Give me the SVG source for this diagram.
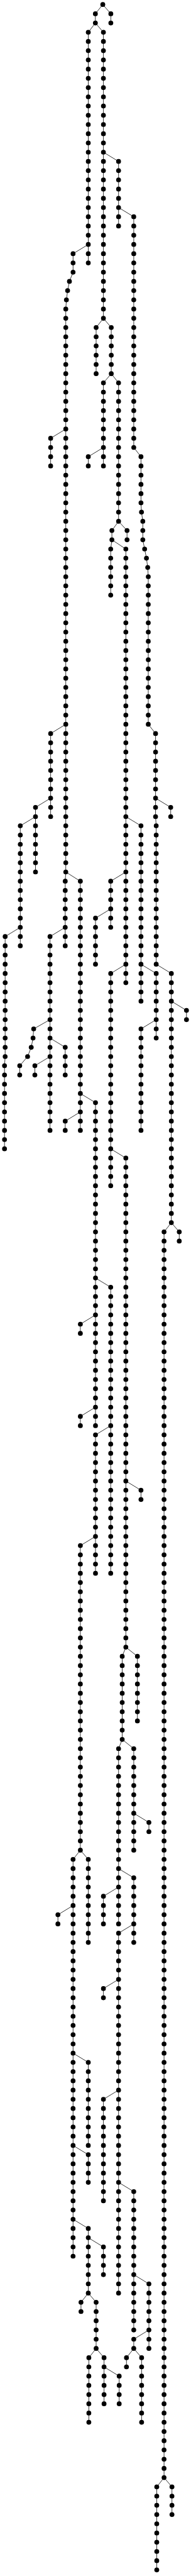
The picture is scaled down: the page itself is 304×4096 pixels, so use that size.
<svg xmlns="http://www.w3.org/2000/svg" width="304" height="4096" viewBox="0 0 304 4096">
<style>circle{r:3.85px;fill:#000}path{fill:none;stroke:#000;stroke-width:.8}</style>
<g id="connectors">
<path d="M163.6 7.2L151.8 21.9V36.6"/>
<path d="M163.6 7.2L176.4 21.9V36.6"/>
<path d="M151.8 36.6L140.5 51.3V418.1"/>
<path d="M151.8 36.6L164.6 51.3V506.1"/>
<path d="M164.6 242L188.7 256.7V359.4"/>
<path d="M188.7 330L212.9 344.7V711.5L224.4 726.2V799.6L225.2 814.3L227.3 828.9V858.3L230.2 873L233.1 887.6L235.1 902.3L236 917V1151.7L247.6 1166.4V1298.5L248.6 1313.1V1533.2L272.7 1547.9V1944.1L261.1 1958.8V3939.6L249.5 3954.3V4086.3"/>
<path d="M140.5 388.7L116.3 403.4V432.8L110.5 447.4L107.6 462.1L105.7 476.8L104.7 491.4V1386.5L103.8 1401.2V1503.9"/>
<path d="M164.6 506.1L153 520.8V594.2"/>
<path d="M164.6 506.1L177.1 520.8V594.2"/>
<path d="M177.1 594.2L164.6 608.8V740.9"/>
<path d="M164.6 711.5L140.5 726.2V740.9"/>
<path d="M177.1 594.2L188.7 608.8V828.9"/>
<path d="M188.7 828.9L202.2 843.6V858.3"/>
<path d="M188.7 828.9L178.1 843.6V858.3"/>
<path d="M178.1 858.3L176.2 873V946.3"/>
<path d="M178.1 858.3L200.3 873V1562.6"/>
<path d="M104.7 682.2L80.6 696.9V740.9"/>
<path d="M104.7 1151.7L80.6 1166.4V1298.5"/>
<path d="M80.6 1269.1L56.5 1283.8V1386.5"/>
<path d="M56.5 1298.5L32.3 1313.1V1503.9"/>
<path d="M32.3 1474.5L8.2 1489.2V1680L7.2 1694.6V1826.7"/>
<path d="M103.8 1474.5L79.6 1489.2V1797.4"/>
<path d="M79.6 1621.3L53.6 1636L52.6 1650.6L49.7 1665.3L43.9 1680L31.4 1694.6V1709.3"/>
<path d="M79.6 1650.6L103.8 1665.3V1709.3"/>
<path d="M79.6 1680L55.5 1694.6V1709.3"/>
<path d="M104.7 1386.5L127.9 1401.2V1797.4"/>
<path d="M127.9 1768L103.8 1782.7V1797.4"/>
<path d="M127.9 1738.7L152 1753.3V2266.9"/>
<path d="M152 2090.8L127.9 2105.5V2120.2"/>
<path d="M152 2237.5L127.9 2252.2V2266.9"/>
<path d="M152 2032.1L176.2 2046.8V2501.7"/>
<path d="M176.2 2266.9L152 2281.6V2501.7"/>
<path d="M152 2443L127.9 2457.6V2941.9"/>
<path d="M127.9 2941.9L116.3 2956.5V3587.5"/>
<path d="M116.3 3029.9L92.2 3044.6V3059.2"/>
<path d="M127.9 2941.9L140.5 2956.5V3088.6"/>
<path d="M116.3 3264.7L140.5 3279.3V3411.4"/>
<path d="M116.3 3411.4L140.5 3426.1V3470.1"/>
<path d="M116.3 3528.8L140.5 3543.4V3646.2"/>
<path d="M140.5 3558.1L164.6 3572.8V3616.8"/>
<path d="M140.5 3646.2L128.9 3660.8V3675.5"/>
<path d="M140.5 3646.2L153 3660.8V3734.2"/>
<path d="M153 3734.2L141.4 3748.9V3851.6"/>
<path d="M153 3734.2L165.6 3748.9V3822.2"/>
<path d="M165.6 3763.5L189.7 3778.2V3822.2"/>
<path d="M200.3 1386.5L176.2 1401.2V1474.5"/>
<path d="M176.2 1445.2L152 1459.9V1533.2"/>
<path d="M200.3 1533.2L176.2 1547.9V1885.4"/>
<path d="M176.2 1826.7L200.3 1841.4V2619.1"/>
<path d="M200.3 2354.9L224.4 2369.6V2384.3"/>
<path d="M200.3 2619.1L194.5 2633.7V2765.8"/>
<path d="M200.3 2619.1L218.7 2633.7V2736.4"/>
<path d="M194.5 2765.8L212.9 2780.5V2941.9"/>
<path d="M212.9 2883.2L237 2897.8V2912.5"/>
<path d="M194.5 2765.8L188.7 2780.5V3059.2"/>
<path d="M188.7 3000.5L164.6 3015.2V3059.2"/>
<path d="M188.7 2971.2L212.9 2985.9V3088.6"/>
<path d="M212.9 3059.2L188.7 3073.9V3646.2"/>
<path d="M188.7 3147.3L164.6 3161.9V3176.6"/>
<path d="M188.7 3323.4L164.6 3338V3499.4"/>
<path d="M188.7 3470.1L212.9 3484.8V3704.8"/>
<path d="M212.9 3616.8L237 3631.5V3734.2"/>
<path d="M237 3704.8L212.9 3719.5V3734.2"/>
<path d="M212.9 3734.2L201.3 3748.9V3763.5"/>
<path d="M212.9 3734.2L225.4 3748.9V3851.6"/>
<path d="M200.3 1298.5L224.4 1313.1V1591.9"/>
<path d="M224.4 1533.2L248.6 1547.9V1650.6"/>
<path d="M248.6 1621.3L224.4 1636V1797.4"/>
<path d="M247.6 1269.1L271.7 1283.8V1298.5"/>
<path d="M272.7 1591.9L296.8 1606.6V1621.3"/>
<path d="M272.7 1944.1L285.3 1958.8V1973.4"/>
<path d="M261.1 3939.6L273.7 3954.3V3998.3"/>
</g>
<g id="nodes">
<g id="n678_0"><circle cx="163.6" cy="7.2"/></g>
<g id="n629_1"><circle cx="151.8" cy="21.9"/></g>
<g id="n629_2"><circle cx="151.8" cy="36.6"/></g>
<g id="n731_1"><circle cx="176.4" cy="21.9"/></g>
<g id="n731_2"><circle cx="176.4" cy="36.6"/></g>
<g id="n582_3"><circle cx="140.5" cy="51.3"/></g>
<g id="n582_4"><circle cx="140.5" cy="65.9"/></g>
<g id="n582_5"><circle cx="140.5" cy="80.6"/></g>
<g id="n582_6"><circle cx="140.5" cy="95.3"/></g>
<g id="n582_7"><circle cx="140.5" cy="109.9"/></g>
<g id="n582_8"><circle cx="140.5" cy="124.6"/></g>
<g id="n582_9"><circle cx="140.5" cy="139.3"/></g>
<g id="n582_10"><circle cx="140.5" cy="154"/></g>
<g id="n582_11"><circle cx="140.5" cy="168.6"/></g>
<g id="n582_12"><circle cx="140.5" cy="183.3"/></g>
<g id="n582_13"><circle cx="140.5" cy="198"/></g>
<g id="n582_14"><circle cx="140.5" cy="212.7"/></g>
<g id="n582_15"><circle cx="140.5" cy="227.3"/></g>
<g id="n582_16"><circle cx="140.5" cy="242"/></g>
<g id="n582_17"><circle cx="140.5" cy="256.7"/></g>
<g id="n582_18"><circle cx="140.5" cy="271.3"/></g>
<g id="n582_19"><circle cx="140.5" cy="286"/></g>
<g id="n582_20"><circle cx="140.5" cy="300.7"/></g>
<g id="n582_21"><circle cx="140.5" cy="315.4"/></g>
<g id="n582_22"><circle cx="140.5" cy="330"/></g>
<g id="n582_23"><circle cx="140.5" cy="344.7"/></g>
<g id="n582_24"><circle cx="140.5" cy="359.4"/></g>
<g id="n582_25"><circle cx="140.5" cy="374.1"/></g>
<g id="n582_26"><circle cx="140.5" cy="388.7"/></g>
<g id="n582_27"><circle cx="140.5" cy="403.4"/></g>
<g id="n582_28"><circle cx="140.5" cy="418.1"/></g>
<g id="n682_3"><circle cx="164.6" cy="51.3"/></g>
<g id="n682_4"><circle cx="164.6" cy="65.9"/></g>
<g id="n682_5"><circle cx="164.6" cy="80.6"/></g>
<g id="n682_6"><circle cx="164.6" cy="95.3"/></g>
<g id="n682_7"><circle cx="164.6" cy="109.9"/></g>
<g id="n682_8"><circle cx="164.6" cy="124.6"/></g>
<g id="n682_9"><circle cx="164.6" cy="139.3"/></g>
<g id="n682_10"><circle cx="164.6" cy="154"/></g>
<g id="n682_11"><circle cx="164.6" cy="168.6"/></g>
<g id="n682_12"><circle cx="164.6" cy="183.3"/></g>
<g id="n682_13"><circle cx="164.6" cy="198"/></g>
<g id="n682_14"><circle cx="164.6" cy="212.7"/></g>
<g id="n682_15"><circle cx="164.6" cy="227.3"/></g>
<g id="n682_16"><circle cx="164.6" cy="242"/></g>
<g id="n682_17"><circle cx="164.6" cy="256.7"/></g>
<g id="n682_18"><circle cx="164.6" cy="271.3"/></g>
<g id="n682_19"><circle cx="164.6" cy="286"/></g>
<g id="n682_20"><circle cx="164.6" cy="300.7"/></g>
<g id="n682_21"><circle cx="164.6" cy="315.4"/></g>
<g id="n682_22"><circle cx="164.6" cy="330"/></g>
<g id="n682_23"><circle cx="164.6" cy="344.7"/></g>
<g id="n682_24"><circle cx="164.6" cy="359.4"/></g>
<g id="n682_25"><circle cx="164.6" cy="374.1"/></g>
<g id="n682_26"><circle cx="164.6" cy="388.7"/></g>
<g id="n682_27"><circle cx="164.6" cy="403.4"/></g>
<g id="n682_28"><circle cx="164.6" cy="418.1"/></g>
<g id="n682_29"><circle cx="164.6" cy="432.8"/></g>
<g id="n682_30"><circle cx="164.6" cy="447.4"/></g>
<g id="n682_31"><circle cx="164.6" cy="462.1"/></g>
<g id="n682_32"><circle cx="164.6" cy="476.8"/></g>
<g id="n682_33"><circle cx="164.6" cy="491.4"/></g>
<g id="n682_34"><circle cx="164.6" cy="506.1"/></g>
<g id="n782_17"><circle cx="188.7" cy="256.7"/></g>
<g id="n782_18"><circle cx="188.7" cy="271.3"/></g>
<g id="n782_19"><circle cx="188.7" cy="286"/></g>
<g id="n782_20"><circle cx="188.7" cy="300.7"/></g>
<g id="n782_21"><circle cx="188.7" cy="315.4"/></g>
<g id="n782_22"><circle cx="188.7" cy="330"/></g>
<g id="n782_23"><circle cx="188.7" cy="344.7"/></g>
<g id="n782_24"><circle cx="188.7" cy="359.4"/></g>
<g id="n882_23"><circle cx="212.9" cy="344.7"/></g>
<g id="n882_24"><circle cx="212.9" cy="359.4"/></g>
<g id="n882_25"><circle cx="212.9" cy="374.1"/></g>
<g id="n882_26"><circle cx="212.9" cy="388.7"/></g>
<g id="n882_27"><circle cx="212.9" cy="403.4"/></g>
<g id="n882_28"><circle cx="212.9" cy="418.1"/></g>
<g id="n882_29"><circle cx="212.9" cy="432.8"/></g>
<g id="n882_30"><circle cx="212.9" cy="447.4"/></g>
<g id="n882_31"><circle cx="212.9" cy="462.1"/></g>
<g id="n882_32"><circle cx="212.9" cy="476.8"/></g>
<g id="n882_33"><circle cx="212.9" cy="491.4"/></g>
<g id="n882_34"><circle cx="212.9" cy="506.1"/></g>
<g id="n882_35"><circle cx="212.9" cy="520.8"/></g>
<g id="n882_36"><circle cx="212.9" cy="535.5"/></g>
<g id="n882_37"><circle cx="212.9" cy="550.1"/></g>
<g id="n882_38"><circle cx="212.9" cy="564.8"/></g>
<g id="n882_39"><circle cx="212.9" cy="579.5"/></g>
<g id="n882_40"><circle cx="212.9" cy="594.2"/></g>
<g id="n882_41"><circle cx="212.9" cy="608.8"/></g>
<g id="n882_42"><circle cx="212.9" cy="623.5"/></g>
<g id="n882_43"><circle cx="212.9" cy="638.2"/></g>
<g id="n882_44"><circle cx="212.9" cy="652.9"/></g>
<g id="n882_45"><circle cx="212.9" cy="667.5"/></g>
<g id="n882_46"><circle cx="212.9" cy="682.2"/></g>
<g id="n882_47"><circle cx="212.9" cy="696.9"/></g>
<g id="n882_48"><circle cx="212.9" cy="711.5"/></g>
<g id="n930_49"><circle cx="224.4" cy="726.2"/></g>
<g id="n930_50"><circle cx="224.4" cy="740.9"/></g>
<g id="n930_51"><circle cx="224.4" cy="755.6"/></g>
<g id="n930_52"><circle cx="224.4" cy="770.2"/></g>
<g id="n930_53"><circle cx="224.4" cy="784.9"/></g>
<g id="n930_54"><circle cx="224.4" cy="799.6"/></g>
<g id="n933_55"><circle cx="225.2" cy="814.3"/></g>
<g id="n942_56"><circle cx="227.3" cy="828.9"/></g>
<g id="n942_57"><circle cx="227.3" cy="843.6"/></g>
<g id="n942_58"><circle cx="227.3" cy="858.3"/></g>
<g id="n954_59"><circle cx="230.2" cy="873"/></g>
<g id="n966_60"><circle cx="233.1" cy="887.6"/></g>
<g id="n974_61"><circle cx="235.1" cy="902.3"/></g>
<g id="n978_62"><circle cx="236" cy="917"/></g>
<g id="n978_63"><circle cx="236" cy="931.6"/></g>
<g id="n978_64"><circle cx="236" cy="946.3"/></g>
<g id="n978_65"><circle cx="236" cy="961"/></g>
<g id="n978_66"><circle cx="236" cy="975.7"/></g>
<g id="n978_67"><circle cx="236" cy="990.3"/></g>
<g id="n978_68"><circle cx="236" cy="1005"/></g>
<g id="n978_69"><circle cx="236" cy="1019.7"/></g>
<g id="n978_70"><circle cx="236" cy="1034.4"/></g>
<g id="n978_71"><circle cx="236" cy="1049"/></g>
<g id="n978_72"><circle cx="236" cy="1063.7"/></g>
<g id="n978_73"><circle cx="236" cy="1078.4"/></g>
<g id="n978_74"><circle cx="236" cy="1093"/></g>
<g id="n978_75"><circle cx="236" cy="1107.7"/></g>
<g id="n978_76"><circle cx="236" cy="1122.4"/></g>
<g id="n978_77"><circle cx="236" cy="1137.1"/></g>
<g id="n978_78"><circle cx="236" cy="1151.7"/></g>
<g id="n1026_79"><circle cx="247.6" cy="1166.4"/></g>
<g id="n1026_80"><circle cx="247.6" cy="1181.1"/></g>
<g id="n1026_81"><circle cx="247.6" cy="1195.8"/></g>
<g id="n1026_82"><circle cx="247.6" cy="1210.4"/></g>
<g id="n1026_83"><circle cx="247.6" cy="1225.1"/></g>
<g id="n1026_84"><circle cx="247.6" cy="1239.8"/></g>
<g id="n1026_85"><circle cx="247.6" cy="1254.5"/></g>
<g id="n1026_86"><circle cx="247.6" cy="1269.1"/></g>
<g id="n1026_87"><circle cx="247.6" cy="1283.8"/></g>
<g id="n1026_88"><circle cx="247.6" cy="1298.5"/></g>
<g id="n1126_87"><circle cx="271.7" cy="1283.8"/></g>
<g id="n1126_88"><circle cx="271.7" cy="1298.5"/></g>
<g id="n1030_89"><circle cx="248.6" cy="1313.1"/></g>
<g id="n1030_90"><circle cx="248.6" cy="1327.8"/></g>
<g id="n1030_91"><circle cx="248.6" cy="1342.5"/></g>
<g id="n1030_92"><circle cx="248.6" cy="1357.2"/></g>
<g id="n1030_93"><circle cx="248.6" cy="1371.8"/></g>
<g id="n1030_94"><circle cx="248.6" cy="1386.5"/></g>
<g id="n1030_95"><circle cx="248.6" cy="1401.2"/></g>
<g id="n1030_96"><circle cx="248.6" cy="1415.9"/></g>
<g id="n1030_97"><circle cx="248.6" cy="1430.5"/></g>
<g id="n1030_98"><circle cx="248.6" cy="1445.2"/></g>
<g id="n1030_99"><circle cx="248.6" cy="1459.9"/></g>
<g id="n1030_100"><circle cx="248.6" cy="1474.5"/></g>
<g id="n1030_101"><circle cx="248.6" cy="1489.2"/></g>
<g id="n1030_102"><circle cx="248.6" cy="1503.9"/></g>
<g id="n1030_103"><circle cx="248.6" cy="1518.6"/></g>
<g id="n1030_104"><circle cx="248.6" cy="1533.2"/></g>
<g id="n1030_105"><circle cx="248.6" cy="1547.9"/></g>
<g id="n1030_106"><circle cx="248.6" cy="1562.6"/></g>
<g id="n1030_107"><circle cx="248.6" cy="1577.3"/></g>
<g id="n1030_108"><circle cx="248.6" cy="1591.9"/></g>
<g id="n1030_109"><circle cx="248.6" cy="1606.6"/></g>
<g id="n1030_110"><circle cx="248.6" cy="1621.3"/></g>
<g id="n1030_111"><circle cx="248.6" cy="1636"/></g>
<g id="n1030_112"><circle cx="248.6" cy="1650.6"/></g>
<g id="n1130_105"><circle cx="272.7" cy="1547.9"/></g>
<g id="n1130_106"><circle cx="272.7" cy="1562.6"/></g>
<g id="n1130_107"><circle cx="272.7" cy="1577.3"/></g>
<g id="n1130_108"><circle cx="272.7" cy="1591.9"/></g>
<g id="n1130_109"><circle cx="272.7" cy="1606.6"/></g>
<g id="n1130_110"><circle cx="272.7" cy="1621.3"/></g>
<g id="n1130_111"><circle cx="272.7" cy="1636"/></g>
<g id="n1130_112"><circle cx="272.7" cy="1650.6"/></g>
<g id="n1130_113"><circle cx="272.7" cy="1665.3"/></g>
<g id="n1130_114"><circle cx="272.7" cy="1680"/></g>
<g id="n1130_115"><circle cx="272.7" cy="1694.6"/></g>
<g id="n1130_116"><circle cx="272.7" cy="1709.3"/></g>
<g id="n1130_117"><circle cx="272.7" cy="1724"/></g>
<g id="n1130_118"><circle cx="272.7" cy="1738.7"/></g>
<g id="n1130_119"><circle cx="272.7" cy="1753.3"/></g>
<g id="n1130_120"><circle cx="272.7" cy="1768"/></g>
<g id="n1130_121"><circle cx="272.7" cy="1782.7"/></g>
<g id="n1130_122"><circle cx="272.7" cy="1797.4"/></g>
<g id="n1130_123"><circle cx="272.7" cy="1812"/></g>
<g id="n1130_124"><circle cx="272.7" cy="1826.7"/></g>
<g id="n1130_125"><circle cx="272.7" cy="1841.4"/></g>
<g id="n1130_126"><circle cx="272.7" cy="1856.1"/></g>
<g id="n1130_127"><circle cx="272.7" cy="1870.7"/></g>
<g id="n1130_128"><circle cx="272.7" cy="1885.4"/></g>
<g id="n1130_129"><circle cx="272.7" cy="1900.1"/></g>
<g id="n1130_130"><circle cx="272.7" cy="1914.7"/></g>
<g id="n1130_131"><circle cx="272.7" cy="1929.4"/></g>
<g id="n1130_132"><circle cx="272.7" cy="1944.1"/></g>
<g id="n1230_109"><circle cx="296.8" cy="1606.6"/></g>
<g id="n1230_110"><circle cx="296.8" cy="1621.3"/></g>
<g id="n1182_133"><circle cx="285.3" cy="1958.8"/></g>
<g id="n1182_134"><circle cx="285.3" cy="1973.4"/></g>
<g id="n1082_133"><circle cx="261.1" cy="1958.8"/></g>
<g id="n1082_134"><circle cx="261.1" cy="1973.4"/></g>
<g id="n1082_135"><circle cx="261.1" cy="1988.1"/></g>
<g id="n1082_136"><circle cx="261.1" cy="2002.8"/></g>
<g id="n1082_137"><circle cx="261.1" cy="2017.5"/></g>
<g id="n1082_138"><circle cx="261.1" cy="2032.1"/></g>
<g id="n1082_139"><circle cx="261.1" cy="2046.8"/></g>
<g id="n1082_140"><circle cx="261.1" cy="2061.5"/></g>
<g id="n1082_141"><circle cx="261.1" cy="2076.1"/></g>
<g id="n1082_142"><circle cx="261.1" cy="2090.8"/></g>
<g id="n1082_143"><circle cx="261.1" cy="2105.5"/></g>
<g id="n1082_144"><circle cx="261.1" cy="2120.2"/></g>
<g id="n1082_145"><circle cx="261.1" cy="2134.8"/></g>
<g id="n1082_146"><circle cx="261.1" cy="2149.5"/></g>
<g id="n1082_147"><circle cx="261.1" cy="2164.2"/></g>
<g id="n1082_148"><circle cx="261.1" cy="2178.9"/></g>
<g id="n1082_149"><circle cx="261.1" cy="2193.5"/></g>
<g id="n1082_150"><circle cx="261.1" cy="2208.2"/></g>
<g id="n1082_151"><circle cx="261.1" cy="2222.9"/></g>
<g id="n1082_152"><circle cx="261.1" cy="2237.5"/></g>
<g id="n1082_153"><circle cx="261.1" cy="2252.2"/></g>
<g id="n1082_154"><circle cx="261.1" cy="2266.9"/></g>
<g id="n1082_155"><circle cx="261.1" cy="2281.6"/></g>
<g id="n1082_156"><circle cx="261.1" cy="2296.2"/></g>
<g id="n1082_157"><circle cx="261.1" cy="2310.9"/></g>
<g id="n1082_158"><circle cx="261.1" cy="2325.6"/></g>
<g id="n1082_159"><circle cx="261.1" cy="2340.3"/></g>
<g id="n1082_160"><circle cx="261.1" cy="2354.9"/></g>
<g id="n1082_161"><circle cx="261.1" cy="2369.6"/></g>
<g id="n1082_162"><circle cx="261.1" cy="2384.3"/></g>
<g id="n1082_163"><circle cx="261.1" cy="2399"/></g>
<g id="n1082_164"><circle cx="261.1" cy="2413.6"/></g>
<g id="n1082_165"><circle cx="261.1" cy="2428.3"/></g>
<g id="n1082_166"><circle cx="261.1" cy="2443"/></g>
<g id="n1082_167"><circle cx="261.1" cy="2457.6"/></g>
<g id="n1082_168"><circle cx="261.1" cy="2472.3"/></g>
<g id="n1082_169"><circle cx="261.1" cy="2487"/></g>
<g id="n1082_170"><circle cx="261.1" cy="2501.7"/></g>
<g id="n1082_171"><circle cx="261.1" cy="2516.3"/></g>
<g id="n1082_172"><circle cx="261.1" cy="2531"/></g>
<g id="n1082_173"><circle cx="261.1" cy="2545.7"/></g>
<g id="n1082_174"><circle cx="261.1" cy="2560.4"/></g>
<g id="n1082_175"><circle cx="261.1" cy="2575"/></g>
<g id="n1082_176"><circle cx="261.1" cy="2589.7"/></g>
<g id="n1082_177"><circle cx="261.1" cy="2604.4"/></g>
<g id="n1082_178"><circle cx="261.1" cy="2619.1"/></g>
<g id="n1082_179"><circle cx="261.1" cy="2633.7"/></g>
<g id="n1082_180"><circle cx="261.1" cy="2648.4"/></g>
<g id="n1082_181"><circle cx="261.1" cy="2663.1"/></g>
<g id="n1082_182"><circle cx="261.1" cy="2677.7"/></g>
<g id="n1082_183"><circle cx="261.1" cy="2692.4"/></g>
<g id="n1082_184"><circle cx="261.1" cy="2707.1"/></g>
<g id="n1082_185"><circle cx="261.1" cy="2721.8"/></g>
<g id="n1082_186"><circle cx="261.1" cy="2736.4"/></g>
<g id="n1082_187"><circle cx="261.1" cy="2751.1"/></g>
<g id="n1082_188"><circle cx="261.1" cy="2765.8"/></g>
<g id="n1082_189"><circle cx="261.1" cy="2780.5"/></g>
<g id="n1082_190"><circle cx="261.1" cy="2795.1"/></g>
<g id="n1082_191"><circle cx="261.1" cy="2809.8"/></g>
<g id="n1082_192"><circle cx="261.1" cy="2824.5"/></g>
<g id="n1082_193"><circle cx="261.1" cy="2839.1"/></g>
<g id="n1082_194"><circle cx="261.1" cy="2853.8"/></g>
<g id="n1082_195"><circle cx="261.1" cy="2868.5"/></g>
<g id="n1082_196"><circle cx="261.1" cy="2883.2"/></g>
<g id="n1082_197"><circle cx="261.1" cy="2897.8"/></g>
<g id="n1082_198"><circle cx="261.1" cy="2912.5"/></g>
<g id="n1082_199"><circle cx="261.1" cy="2927.2"/></g>
<g id="n1082_200"><circle cx="261.1" cy="2941.9"/></g>
<g id="n1082_201"><circle cx="261.1" cy="2956.5"/></g>
<g id="n1082_202"><circle cx="261.1" cy="2971.2"/></g>
<g id="n1082_203"><circle cx="261.1" cy="2985.9"/></g>
<g id="n1082_204"><circle cx="261.1" cy="3000.5"/></g>
<g id="n1082_205"><circle cx="261.1" cy="3015.2"/></g>
<g id="n1082_206"><circle cx="261.1" cy="3029.9"/></g>
<g id="n1082_207"><circle cx="261.1" cy="3044.6"/></g>
<g id="n1082_208"><circle cx="261.1" cy="3059.2"/></g>
<g id="n1082_209"><circle cx="261.1" cy="3073.9"/></g>
<g id="n1082_210"><circle cx="261.1" cy="3088.6"/></g>
<g id="n1082_211"><circle cx="261.1" cy="3103.2"/></g>
<g id="n1082_212"><circle cx="261.1" cy="3117.9"/></g>
<g id="n1082_213"><circle cx="261.1" cy="3132.6"/></g>
<g id="n1082_214"><circle cx="261.1" cy="3147.3"/></g>
<g id="n1082_215"><circle cx="261.1" cy="3161.9"/></g>
<g id="n1082_216"><circle cx="261.1" cy="3176.6"/></g>
<g id="n1082_217"><circle cx="261.1" cy="3191.3"/></g>
<g id="n1082_218"><circle cx="261.1" cy="3206"/></g>
<g id="n1082_219"><circle cx="261.1" cy="3220.6"/></g>
<g id="n1082_220"><circle cx="261.1" cy="3235.3"/></g>
<g id="n1082_221"><circle cx="261.1" cy="3250"/></g>
<g id="n1082_222"><circle cx="261.1" cy="3264.7"/></g>
<g id="n1082_223"><circle cx="261.1" cy="3279.3"/></g>
<g id="n1082_224"><circle cx="261.1" cy="3294"/></g>
<g id="n1082_225"><circle cx="261.1" cy="3308.7"/></g>
<g id="n1082_226"><circle cx="261.1" cy="3323.4"/></g>
<g id="n1082_227"><circle cx="261.1" cy="3338"/></g>
<g id="n1082_228"><circle cx="261.1" cy="3352.7"/></g>
<g id="n1082_229"><circle cx="261.1" cy="3367.4"/></g>
<g id="n1082_230"><circle cx="261.1" cy="3382"/></g>
<g id="n1082_231"><circle cx="261.1" cy="3396.7"/></g>
<g id="n1082_232"><circle cx="261.1" cy="3411.4"/></g>
<g id="n1082_233"><circle cx="261.1" cy="3426.1"/></g>
<g id="n1082_234"><circle cx="261.1" cy="3440.7"/></g>
<g id="n1082_235"><circle cx="261.1" cy="3455.4"/></g>
<g id="n1082_236"><circle cx="261.1" cy="3470.1"/></g>
<g id="n1082_237"><circle cx="261.1" cy="3484.8"/></g>
<g id="n1082_238"><circle cx="261.1" cy="3499.4"/></g>
<g id="n1082_239"><circle cx="261.1" cy="3514.1"/></g>
<g id="n1082_240"><circle cx="261.1" cy="3528.8"/></g>
<g id="n1082_241"><circle cx="261.1" cy="3543.4"/></g>
<g id="n1082_242"><circle cx="261.1" cy="3558.1"/></g>
<g id="n1082_243"><circle cx="261.1" cy="3572.8"/></g>
<g id="n1082_244"><circle cx="261.1" cy="3587.5"/></g>
<g id="n1082_245"><circle cx="261.1" cy="3602.1"/></g>
<g id="n1082_246"><circle cx="261.1" cy="3616.8"/></g>
<g id="n1082_247"><circle cx="261.1" cy="3631.5"/></g>
<g id="n1082_248"><circle cx="261.1" cy="3646.2"/></g>
<g id="n1082_249"><circle cx="261.1" cy="3660.8"/></g>
<g id="n1082_250"><circle cx="261.1" cy="3675.5"/></g>
<g id="n1082_251"><circle cx="261.1" cy="3690.2"/></g>
<g id="n1082_252"><circle cx="261.1" cy="3704.8"/></g>
<g id="n1082_253"><circle cx="261.1" cy="3719.5"/></g>
<g id="n1082_254"><circle cx="261.1" cy="3734.2"/></g>
<g id="n1082_255"><circle cx="261.1" cy="3748.9"/></g>
<g id="n1082_256"><circle cx="261.1" cy="3763.5"/></g>
<g id="n1082_257"><circle cx="261.1" cy="3778.2"/></g>
<g id="n1082_258"><circle cx="261.1" cy="3792.9"/></g>
<g id="n1082_259"><circle cx="261.1" cy="3807.6"/></g>
<g id="n1082_260"><circle cx="261.1" cy="3822.2"/></g>
<g id="n1082_261"><circle cx="261.1" cy="3836.9"/></g>
<g id="n1082_262"><circle cx="261.1" cy="3851.6"/></g>
<g id="n1082_263"><circle cx="261.1" cy="3866.3"/></g>
<g id="n1082_264"><circle cx="261.1" cy="3880.9"/></g>
<g id="n1082_265"><circle cx="261.1" cy="3895.6"/></g>
<g id="n1082_266"><circle cx="261.1" cy="3910.3"/></g>
<g id="n1082_267"><circle cx="261.1" cy="3924.9"/></g>
<g id="n1082_268"><circle cx="261.1" cy="3939.6"/></g>
<g id="n1134_269"><circle cx="273.7" cy="3954.3"/></g>
<g id="n1134_270"><circle cx="273.7" cy="3969"/></g>
<g id="n1134_271"><circle cx="273.7" cy="3983.6"/></g>
<g id="n1134_272"><circle cx="273.7" cy="3998.3"/></g>
<g id="n1034_269"><circle cx="249.5" cy="3954.3"/></g>
<g id="n1034_270"><circle cx="249.5" cy="3969"/></g>
<g id="n1034_271"><circle cx="249.5" cy="3983.6"/></g>
<g id="n1034_272"><circle cx="249.5" cy="3998.3"/></g>
<g id="n1034_273"><circle cx="249.5" cy="4013"/></g>
<g id="n1034_274"><circle cx="249.5" cy="4027.7"/></g>
<g id="n1034_275"><circle cx="249.5" cy="4042.3"/></g>
<g id="n1034_276"><circle cx="249.5" cy="4057"/></g>
<g id="n1034_277"><circle cx="249.5" cy="4071.7"/></g>
<g id="n1034_278"><circle cx="249.5" cy="4086.3"/></g>
<g id="n482_27"><circle cx="116.3" cy="403.4"/></g>
<g id="n482_28"><circle cx="116.3" cy="418.1"/></g>
<g id="n482_29"><circle cx="116.3" cy="432.8"/></g>
<g id="n458_30"><circle cx="110.5" cy="447.4"/></g>
<g id="n446_31"><circle cx="107.6" cy="462.1"/></g>
<g id="n438_32"><circle cx="105.7" cy="476.8"/></g>
<g id="n434_33"><circle cx="104.7" cy="491.4"/></g>
<g id="n434_34"><circle cx="104.7" cy="506.1"/></g>
<g id="n434_35"><circle cx="104.7" cy="520.8"/></g>
<g id="n434_36"><circle cx="104.7" cy="535.5"/></g>
<g id="n434_37"><circle cx="104.7" cy="550.1"/></g>
<g id="n434_38"><circle cx="104.7" cy="564.8"/></g>
<g id="n434_39"><circle cx="104.7" cy="579.5"/></g>
<g id="n434_40"><circle cx="104.7" cy="594.2"/></g>
<g id="n434_41"><circle cx="104.7" cy="608.8"/></g>
<g id="n434_42"><circle cx="104.7" cy="623.5"/></g>
<g id="n434_43"><circle cx="104.7" cy="638.2"/></g>
<g id="n434_44"><circle cx="104.7" cy="652.9"/></g>
<g id="n434_45"><circle cx="104.7" cy="667.5"/></g>
<g id="n434_46"><circle cx="104.7" cy="682.2"/></g>
<g id="n434_47"><circle cx="104.7" cy="696.9"/></g>
<g id="n434_48"><circle cx="104.7" cy="711.5"/></g>
<g id="n434_49"><circle cx="104.7" cy="726.2"/></g>
<g id="n434_50"><circle cx="104.7" cy="740.9"/></g>
<g id="n434_51"><circle cx="104.7" cy="755.6"/></g>
<g id="n434_52"><circle cx="104.7" cy="770.2"/></g>
<g id="n434_53"><circle cx="104.7" cy="784.9"/></g>
<g id="n434_54"><circle cx="104.7" cy="799.6"/></g>
<g id="n434_55"><circle cx="104.7" cy="814.3"/></g>
<g id="n434_56"><circle cx="104.7" cy="828.9"/></g>
<g id="n434_57"><circle cx="104.7" cy="843.6"/></g>
<g id="n434_58"><circle cx="104.7" cy="858.3"/></g>
<g id="n434_59"><circle cx="104.7" cy="873"/></g>
<g id="n434_60"><circle cx="104.7" cy="887.6"/></g>
<g id="n434_61"><circle cx="104.7" cy="902.3"/></g>
<g id="n434_62"><circle cx="104.7" cy="917"/></g>
<g id="n434_63"><circle cx="104.7" cy="931.6"/></g>
<g id="n434_64"><circle cx="104.7" cy="946.3"/></g>
<g id="n434_65"><circle cx="104.7" cy="961"/></g>
<g id="n434_66"><circle cx="104.7" cy="975.7"/></g>
<g id="n434_67"><circle cx="104.7" cy="990.3"/></g>
<g id="n434_68"><circle cx="104.7" cy="1005"/></g>
<g id="n434_69"><circle cx="104.7" cy="1019.7"/></g>
<g id="n434_70"><circle cx="104.7" cy="1034.4"/></g>
<g id="n434_71"><circle cx="104.7" cy="1049"/></g>
<g id="n434_72"><circle cx="104.7" cy="1063.7"/></g>
<g id="n434_73"><circle cx="104.7" cy="1078.4"/></g>
<g id="n434_74"><circle cx="104.7" cy="1093"/></g>
<g id="n434_75"><circle cx="104.7" cy="1107.7"/></g>
<g id="n434_76"><circle cx="104.7" cy="1122.4"/></g>
<g id="n434_77"><circle cx="104.7" cy="1137.1"/></g>
<g id="n434_78"><circle cx="104.7" cy="1151.7"/></g>
<g id="n434_79"><circle cx="104.7" cy="1166.4"/></g>
<g id="n434_80"><circle cx="104.7" cy="1181.1"/></g>
<g id="n434_81"><circle cx="104.7" cy="1195.8"/></g>
<g id="n434_82"><circle cx="104.7" cy="1210.4"/></g>
<g id="n434_83"><circle cx="104.7" cy="1225.1"/></g>
<g id="n434_84"><circle cx="104.7" cy="1239.8"/></g>
<g id="n434_85"><circle cx="104.7" cy="1254.5"/></g>
<g id="n434_86"><circle cx="104.7" cy="1269.1"/></g>
<g id="n434_87"><circle cx="104.7" cy="1283.8"/></g>
<g id="n434_88"><circle cx="104.7" cy="1298.5"/></g>
<g id="n434_89"><circle cx="104.7" cy="1313.1"/></g>
<g id="n434_90"><circle cx="104.7" cy="1327.8"/></g>
<g id="n434_91"><circle cx="104.7" cy="1342.5"/></g>
<g id="n434_92"><circle cx="104.7" cy="1357.2"/></g>
<g id="n434_93"><circle cx="104.7" cy="1371.8"/></g>
<g id="n434_94"><circle cx="104.7" cy="1386.5"/></g>
<g id="n430_95"><circle cx="103.8" cy="1401.2"/></g>
<g id="n430_96"><circle cx="103.8" cy="1415.9"/></g>
<g id="n430_97"><circle cx="103.8" cy="1430.5"/></g>
<g id="n430_98"><circle cx="103.8" cy="1445.2"/></g>
<g id="n430_99"><circle cx="103.8" cy="1459.9"/></g>
<g id="n430_100"><circle cx="103.8" cy="1474.5"/></g>
<g id="n430_101"><circle cx="103.8" cy="1489.2"/></g>
<g id="n430_102"><circle cx="103.8" cy="1503.9"/></g>
<g id="n634_35"><circle cx="153" cy="520.8"/></g>
<g id="n634_36"><circle cx="153" cy="535.5"/></g>
<g id="n634_37"><circle cx="153" cy="550.1"/></g>
<g id="n634_38"><circle cx="153" cy="564.8"/></g>
<g id="n634_39"><circle cx="153" cy="579.5"/></g>
<g id="n634_40"><circle cx="153" cy="594.2"/></g>
<g id="n734_35"><circle cx="177.1" cy="520.8"/></g>
<g id="n734_36"><circle cx="177.1" cy="535.5"/></g>
<g id="n734_37"><circle cx="177.1" cy="550.1"/></g>
<g id="n734_38"><circle cx="177.1" cy="564.8"/></g>
<g id="n734_39"><circle cx="177.1" cy="579.5"/></g>
<g id="n734_40"><circle cx="177.1" cy="594.2"/></g>
<g id="n682_41"><circle cx="164.6" cy="608.8"/></g>
<g id="n682_42"><circle cx="164.6" cy="623.5"/></g>
<g id="n682_43"><circle cx="164.6" cy="638.2"/></g>
<g id="n682_44"><circle cx="164.6" cy="652.9"/></g>
<g id="n682_45"><circle cx="164.6" cy="667.5"/></g>
<g id="n682_46"><circle cx="164.6" cy="682.2"/></g>
<g id="n682_47"><circle cx="164.6" cy="696.9"/></g>
<g id="n682_48"><circle cx="164.6" cy="711.5"/></g>
<g id="n682_49"><circle cx="164.6" cy="726.2"/></g>
<g id="n682_50"><circle cx="164.6" cy="740.9"/></g>
<g id="n582_49"><circle cx="140.5" cy="726.2"/></g>
<g id="n582_50"><circle cx="140.5" cy="740.9"/></g>
<g id="n782_41"><circle cx="188.7" cy="608.8"/></g>
<g id="n782_42"><circle cx="188.7" cy="623.5"/></g>
<g id="n782_43"><circle cx="188.7" cy="638.2"/></g>
<g id="n782_44"><circle cx="188.7" cy="652.9"/></g>
<g id="n782_45"><circle cx="188.7" cy="667.5"/></g>
<g id="n782_46"><circle cx="188.7" cy="682.2"/></g>
<g id="n782_47"><circle cx="188.7" cy="696.9"/></g>
<g id="n782_48"><circle cx="188.7" cy="711.5"/></g>
<g id="n782_49"><circle cx="188.7" cy="726.2"/></g>
<g id="n782_50"><circle cx="188.7" cy="740.9"/></g>
<g id="n782_51"><circle cx="188.7" cy="755.6"/></g>
<g id="n782_52"><circle cx="188.7" cy="770.2"/></g>
<g id="n782_53"><circle cx="188.7" cy="784.9"/></g>
<g id="n782_54"><circle cx="188.7" cy="799.6"/></g>
<g id="n782_55"><circle cx="188.7" cy="814.3"/></g>
<g id="n782_56"><circle cx="188.7" cy="828.9"/></g>
<g id="n838_57"><circle cx="202.2" cy="843.6"/></g>
<g id="n838_58"><circle cx="202.2" cy="858.3"/></g>
<g id="n738_57"><circle cx="178.1" cy="843.6"/></g>
<g id="n738_58"><circle cx="178.1" cy="858.3"/></g>
<g id="n730_59"><circle cx="176.2" cy="873"/></g>
<g id="n730_60"><circle cx="176.2" cy="887.6"/></g>
<g id="n730_61"><circle cx="176.2" cy="902.3"/></g>
<g id="n730_62"><circle cx="176.2" cy="917"/></g>
<g id="n730_63"><circle cx="176.2" cy="931.6"/></g>
<g id="n730_64"><circle cx="176.2" cy="946.3"/></g>
<g id="n830_59"><circle cx="200.3" cy="873"/></g>
<g id="n830_60"><circle cx="200.3" cy="887.6"/></g>
<g id="n830_61"><circle cx="200.3" cy="902.3"/></g>
<g id="n830_62"><circle cx="200.3" cy="917"/></g>
<g id="n830_63"><circle cx="200.3" cy="931.6"/></g>
<g id="n830_64"><circle cx="200.3" cy="946.3"/></g>
<g id="n830_65"><circle cx="200.3" cy="961"/></g>
<g id="n830_66"><circle cx="200.3" cy="975.7"/></g>
<g id="n830_67"><circle cx="200.3" cy="990.3"/></g>
<g id="n830_68"><circle cx="200.3" cy="1005"/></g>
<g id="n830_69"><circle cx="200.3" cy="1019.7"/></g>
<g id="n830_70"><circle cx="200.3" cy="1034.4"/></g>
<g id="n830_71"><circle cx="200.3" cy="1049"/></g>
<g id="n830_72"><circle cx="200.3" cy="1063.7"/></g>
<g id="n830_73"><circle cx="200.3" cy="1078.4"/></g>
<g id="n830_74"><circle cx="200.3" cy="1093"/></g>
<g id="n830_75"><circle cx="200.3" cy="1107.7"/></g>
<g id="n830_76"><circle cx="200.3" cy="1122.4"/></g>
<g id="n830_77"><circle cx="200.3" cy="1137.1"/></g>
<g id="n830_78"><circle cx="200.3" cy="1151.7"/></g>
<g id="n830_79"><circle cx="200.3" cy="1166.4"/></g>
<g id="n830_80"><circle cx="200.3" cy="1181.1"/></g>
<g id="n830_81"><circle cx="200.3" cy="1195.8"/></g>
<g id="n830_82"><circle cx="200.3" cy="1210.4"/></g>
<g id="n830_83"><circle cx="200.3" cy="1225.1"/></g>
<g id="n830_84"><circle cx="200.3" cy="1239.8"/></g>
<g id="n830_85"><circle cx="200.3" cy="1254.5"/></g>
<g id="n830_86"><circle cx="200.3" cy="1269.1"/></g>
<g id="n830_87"><circle cx="200.3" cy="1283.8"/></g>
<g id="n830_88"><circle cx="200.3" cy="1298.5"/></g>
<g id="n830_89"><circle cx="200.3" cy="1313.1"/></g>
<g id="n830_90"><circle cx="200.3" cy="1327.8"/></g>
<g id="n830_91"><circle cx="200.3" cy="1342.5"/></g>
<g id="n830_92"><circle cx="200.3" cy="1357.2"/></g>
<g id="n830_93"><circle cx="200.3" cy="1371.8"/></g>
<g id="n830_94"><circle cx="200.3" cy="1386.5"/></g>
<g id="n830_95"><circle cx="200.3" cy="1401.2"/></g>
<g id="n830_96"><circle cx="200.3" cy="1415.9"/></g>
<g id="n830_97"><circle cx="200.3" cy="1430.5"/></g>
<g id="n830_98"><circle cx="200.3" cy="1445.2"/></g>
<g id="n830_99"><circle cx="200.3" cy="1459.9"/></g>
<g id="n830_100"><circle cx="200.3" cy="1474.5"/></g>
<g id="n830_101"><circle cx="200.3" cy="1489.2"/></g>
<g id="n830_102"><circle cx="200.3" cy="1503.9"/></g>
<g id="n830_103"><circle cx="200.3" cy="1518.6"/></g>
<g id="n830_104"><circle cx="200.3" cy="1533.2"/></g>
<g id="n830_105"><circle cx="200.3" cy="1547.9"/></g>
<g id="n830_106"><circle cx="200.3" cy="1562.6"/></g>
<g id="n334_47"><circle cx="80.6" cy="696.9"/></g>
<g id="n334_48"><circle cx="80.6" cy="711.5"/></g>
<g id="n334_49"><circle cx="80.6" cy="726.2"/></g>
<g id="n334_50"><circle cx="80.6" cy="740.9"/></g>
<g id="n334_79"><circle cx="80.6" cy="1166.4"/></g>
<g id="n334_80"><circle cx="80.6" cy="1181.1"/></g>
<g id="n334_81"><circle cx="80.6" cy="1195.8"/></g>
<g id="n334_82"><circle cx="80.6" cy="1210.4"/></g>
<g id="n334_83"><circle cx="80.6" cy="1225.1"/></g>
<g id="n334_84"><circle cx="80.6" cy="1239.8"/></g>
<g id="n334_85"><circle cx="80.6" cy="1254.5"/></g>
<g id="n334_86"><circle cx="80.6" cy="1269.1"/></g>
<g id="n334_87"><circle cx="80.6" cy="1283.8"/></g>
<g id="n334_88"><circle cx="80.6" cy="1298.5"/></g>
<g id="n234_87"><circle cx="56.5" cy="1283.8"/></g>
<g id="n234_88"><circle cx="56.5" cy="1298.5"/></g>
<g id="n234_89"><circle cx="56.5" cy="1313.1"/></g>
<g id="n234_90"><circle cx="56.5" cy="1327.8"/></g>
<g id="n234_91"><circle cx="56.5" cy="1342.5"/></g>
<g id="n234_92"><circle cx="56.5" cy="1357.2"/></g>
<g id="n234_93"><circle cx="56.5" cy="1371.8"/></g>
<g id="n234_94"><circle cx="56.5" cy="1386.5"/></g>
<g id="n134_89"><circle cx="32.3" cy="1313.1"/></g>
<g id="n134_90"><circle cx="32.3" cy="1327.8"/></g>
<g id="n134_91"><circle cx="32.3" cy="1342.5"/></g>
<g id="n134_92"><circle cx="32.3" cy="1357.2"/></g>
<g id="n134_93"><circle cx="32.3" cy="1371.8"/></g>
<g id="n134_94"><circle cx="32.3" cy="1386.5"/></g>
<g id="n134_95"><circle cx="32.3" cy="1401.2"/></g>
<g id="n134_96"><circle cx="32.3" cy="1415.9"/></g>
<g id="n134_97"><circle cx="32.3" cy="1430.5"/></g>
<g id="n134_98"><circle cx="32.3" cy="1445.2"/></g>
<g id="n134_99"><circle cx="32.3" cy="1459.9"/></g>
<g id="n134_100"><circle cx="32.3" cy="1474.5"/></g>
<g id="n134_101"><circle cx="32.3" cy="1489.2"/></g>
<g id="n134_102"><circle cx="32.3" cy="1503.9"/></g>
<g id="n34_101"><circle cx="8.2" cy="1489.2"/></g>
<g id="n34_102"><circle cx="8.2" cy="1503.9"/></g>
<g id="n34_103"><circle cx="8.2" cy="1518.6"/></g>
<g id="n34_104"><circle cx="8.2" cy="1533.2"/></g>
<g id="n34_105"><circle cx="8.2" cy="1547.9"/></g>
<g id="n34_106"><circle cx="8.2" cy="1562.6"/></g>
<g id="n34_107"><circle cx="8.2" cy="1577.3"/></g>
<g id="n34_108"><circle cx="8.2" cy="1591.9"/></g>
<g id="n34_109"><circle cx="8.2" cy="1606.6"/></g>
<g id="n34_110"><circle cx="8.2" cy="1621.3"/></g>
<g id="n34_111"><circle cx="8.2" cy="1636"/></g>
<g id="n34_112"><circle cx="8.2" cy="1650.6"/></g>
<g id="n34_113"><circle cx="8.2" cy="1665.3"/></g>
<g id="n34_114"><circle cx="8.2" cy="1680"/></g>
<g id="n30_115"><circle cx="7.2" cy="1694.6"/></g>
<g id="n30_116"><circle cx="7.2" cy="1709.3"/></g>
<g id="n30_117"><circle cx="7.2" cy="1724"/></g>
<g id="n30_118"><circle cx="7.2" cy="1738.7"/></g>
<g id="n30_119"><circle cx="7.2" cy="1753.3"/></g>
<g id="n30_120"><circle cx="7.2" cy="1768"/></g>
<g id="n30_121"><circle cx="7.2" cy="1782.7"/></g>
<g id="n30_122"><circle cx="7.2" cy="1797.4"/></g>
<g id="n30_123"><circle cx="7.2" cy="1812"/></g>
<g id="n30_124"><circle cx="7.2" cy="1826.7"/></g>
<g id="n330_101"><circle cx="79.6" cy="1489.2"/></g>
<g id="n330_102"><circle cx="79.6" cy="1503.9"/></g>
<g id="n330_103"><circle cx="79.6" cy="1518.6"/></g>
<g id="n330_104"><circle cx="79.6" cy="1533.2"/></g>
<g id="n330_105"><circle cx="79.6" cy="1547.9"/></g>
<g id="n330_106"><circle cx="79.6" cy="1562.6"/></g>
<g id="n330_107"><circle cx="79.6" cy="1577.3"/></g>
<g id="n330_108"><circle cx="79.6" cy="1591.9"/></g>
<g id="n330_109"><circle cx="79.6" cy="1606.6"/></g>
<g id="n330_110"><circle cx="79.6" cy="1621.3"/></g>
<g id="n330_111"><circle cx="79.6" cy="1636"/></g>
<g id="n330_112"><circle cx="79.6" cy="1650.6"/></g>
<g id="n330_113"><circle cx="79.6" cy="1665.3"/></g>
<g id="n330_114"><circle cx="79.6" cy="1680"/></g>
<g id="n330_115"><circle cx="79.6" cy="1694.6"/></g>
<g id="n330_116"><circle cx="79.6" cy="1709.3"/></g>
<g id="n330_117"><circle cx="79.6" cy="1724"/></g>
<g id="n330_118"><circle cx="79.6" cy="1738.7"/></g>
<g id="n330_119"><circle cx="79.6" cy="1753.3"/></g>
<g id="n330_120"><circle cx="79.6" cy="1768"/></g>
<g id="n330_121"><circle cx="79.6" cy="1782.7"/></g>
<g id="n330_122"><circle cx="79.6" cy="1797.4"/></g>
<g id="n222_111"><circle cx="53.6" cy="1636"/></g>
<g id="n218_112"><circle cx="52.6" cy="1650.6"/></g>
<g id="n206_113"><circle cx="49.7" cy="1665.3"/></g>
<g id="n182_114"><circle cx="43.9" cy="1680"/></g>
<g id="n130_115"><circle cx="31.4" cy="1694.6"/></g>
<g id="n130_116"><circle cx="31.4" cy="1709.3"/></g>
<g id="n430_113"><circle cx="103.8" cy="1665.3"/></g>
<g id="n430_114"><circle cx="103.8" cy="1680"/></g>
<g id="n430_115"><circle cx="103.8" cy="1694.6"/></g>
<g id="n430_116"><circle cx="103.8" cy="1709.3"/></g>
<g id="n230_115"><circle cx="55.5" cy="1694.6"/></g>
<g id="n230_116"><circle cx="55.5" cy="1709.3"/></g>
<g id="n530_95"><circle cx="127.9" cy="1401.2"/></g>
<g id="n530_96"><circle cx="127.9" cy="1415.9"/></g>
<g id="n530_97"><circle cx="127.9" cy="1430.5"/></g>
<g id="n530_98"><circle cx="127.9" cy="1445.2"/></g>
<g id="n530_99"><circle cx="127.9" cy="1459.9"/></g>
<g id="n530_100"><circle cx="127.9" cy="1474.5"/></g>
<g id="n530_101"><circle cx="127.9" cy="1489.2"/></g>
<g id="n530_102"><circle cx="127.9" cy="1503.9"/></g>
<g id="n530_103"><circle cx="127.9" cy="1518.6"/></g>
<g id="n530_104"><circle cx="127.9" cy="1533.2"/></g>
<g id="n530_105"><circle cx="127.9" cy="1547.9"/></g>
<g id="n530_106"><circle cx="127.9" cy="1562.6"/></g>
<g id="n530_107"><circle cx="127.9" cy="1577.3"/></g>
<g id="n530_108"><circle cx="127.9" cy="1591.9"/></g>
<g id="n530_109"><circle cx="127.9" cy="1606.6"/></g>
<g id="n530_110"><circle cx="127.9" cy="1621.3"/></g>
<g id="n530_111"><circle cx="127.9" cy="1636"/></g>
<g id="n530_112"><circle cx="127.9" cy="1650.6"/></g>
<g id="n530_113"><circle cx="127.9" cy="1665.3"/></g>
<g id="n530_114"><circle cx="127.9" cy="1680"/></g>
<g id="n530_115"><circle cx="127.9" cy="1694.6"/></g>
<g id="n530_116"><circle cx="127.9" cy="1709.3"/></g>
<g id="n530_117"><circle cx="127.9" cy="1724"/></g>
<g id="n530_118"><circle cx="127.9" cy="1738.7"/></g>
<g id="n530_119"><circle cx="127.9" cy="1753.3"/></g>
<g id="n530_120"><circle cx="127.9" cy="1768"/></g>
<g id="n530_121"><circle cx="127.9" cy="1782.7"/></g>
<g id="n530_122"><circle cx="127.9" cy="1797.4"/></g>
<g id="n430_121"><circle cx="103.8" cy="1782.7"/></g>
<g id="n430_122"><circle cx="103.8" cy="1797.4"/></g>
<g id="n630_119"><circle cx="152" cy="1753.3"/></g>
<g id="n630_120"><circle cx="152" cy="1768"/></g>
<g id="n630_121"><circle cx="152" cy="1782.7"/></g>
<g id="n630_122"><circle cx="152" cy="1797.4"/></g>
<g id="n630_123"><circle cx="152" cy="1812"/></g>
<g id="n630_124"><circle cx="152" cy="1826.7"/></g>
<g id="n630_125"><circle cx="152" cy="1841.4"/></g>
<g id="n630_126"><circle cx="152" cy="1856.1"/></g>
<g id="n630_127"><circle cx="152" cy="1870.7"/></g>
<g id="n630_128"><circle cx="152" cy="1885.4"/></g>
<g id="n630_129"><circle cx="152" cy="1900.1"/></g>
<g id="n630_130"><circle cx="152" cy="1914.7"/></g>
<g id="n630_131"><circle cx="152" cy="1929.4"/></g>
<g id="n630_132"><circle cx="152" cy="1944.1"/></g>
<g id="n630_133"><circle cx="152" cy="1958.8"/></g>
<g id="n630_134"><circle cx="152" cy="1973.4"/></g>
<g id="n630_135"><circle cx="152" cy="1988.1"/></g>
<g id="n630_136"><circle cx="152" cy="2002.8"/></g>
<g id="n630_137"><circle cx="152" cy="2017.5"/></g>
<g id="n630_138"><circle cx="152" cy="2032.1"/></g>
<g id="n630_139"><circle cx="152" cy="2046.8"/></g>
<g id="n630_140"><circle cx="152" cy="2061.5"/></g>
<g id="n630_141"><circle cx="152" cy="2076.1"/></g>
<g id="n630_142"><circle cx="152" cy="2090.8"/></g>
<g id="n630_143"><circle cx="152" cy="2105.5"/></g>
<g id="n630_144"><circle cx="152" cy="2120.2"/></g>
<g id="n630_145"><circle cx="152" cy="2134.8"/></g>
<g id="n630_146"><circle cx="152" cy="2149.5"/></g>
<g id="n630_147"><circle cx="152" cy="2164.2"/></g>
<g id="n630_148"><circle cx="152" cy="2178.9"/></g>
<g id="n630_149"><circle cx="152" cy="2193.5"/></g>
<g id="n630_150"><circle cx="152" cy="2208.2"/></g>
<g id="n630_151"><circle cx="152" cy="2222.9"/></g>
<g id="n630_152"><circle cx="152" cy="2237.5"/></g>
<g id="n630_153"><circle cx="152" cy="2252.2"/></g>
<g id="n630_154"><circle cx="152" cy="2266.9"/></g>
<g id="n530_143"><circle cx="127.9" cy="2105.5"/></g>
<g id="n530_144"><circle cx="127.9" cy="2120.2"/></g>
<g id="n530_153"><circle cx="127.9" cy="2252.2"/></g>
<g id="n530_154"><circle cx="127.9" cy="2266.9"/></g>
<g id="n730_139"><circle cx="176.2" cy="2046.8"/></g>
<g id="n730_140"><circle cx="176.2" cy="2061.5"/></g>
<g id="n730_141"><circle cx="176.2" cy="2076.1"/></g>
<g id="n730_142"><circle cx="176.2" cy="2090.8"/></g>
<g id="n730_143"><circle cx="176.2" cy="2105.5"/></g>
<g id="n730_144"><circle cx="176.2" cy="2120.2"/></g>
<g id="n730_145"><circle cx="176.2" cy="2134.8"/></g>
<g id="n730_146"><circle cx="176.2" cy="2149.5"/></g>
<g id="n730_147"><circle cx="176.2" cy="2164.2"/></g>
<g id="n730_148"><circle cx="176.2" cy="2178.9"/></g>
<g id="n730_149"><circle cx="176.2" cy="2193.5"/></g>
<g id="n730_150"><circle cx="176.2" cy="2208.2"/></g>
<g id="n730_151"><circle cx="176.2" cy="2222.9"/></g>
<g id="n730_152"><circle cx="176.2" cy="2237.5"/></g>
<g id="n730_153"><circle cx="176.2" cy="2252.2"/></g>
<g id="n730_154"><circle cx="176.2" cy="2266.9"/></g>
<g id="n730_155"><circle cx="176.2" cy="2281.6"/></g>
<g id="n730_156"><circle cx="176.2" cy="2296.2"/></g>
<g id="n730_157"><circle cx="176.2" cy="2310.9"/></g>
<g id="n730_158"><circle cx="176.2" cy="2325.6"/></g>
<g id="n730_159"><circle cx="176.2" cy="2340.3"/></g>
<g id="n730_160"><circle cx="176.2" cy="2354.9"/></g>
<g id="n730_161"><circle cx="176.2" cy="2369.6"/></g>
<g id="n730_162"><circle cx="176.2" cy="2384.3"/></g>
<g id="n730_163"><circle cx="176.2" cy="2399"/></g>
<g id="n730_164"><circle cx="176.2" cy="2413.6"/></g>
<g id="n730_165"><circle cx="176.2" cy="2428.3"/></g>
<g id="n730_166"><circle cx="176.2" cy="2443"/></g>
<g id="n730_167"><circle cx="176.2" cy="2457.6"/></g>
<g id="n730_168"><circle cx="176.2" cy="2472.3"/></g>
<g id="n730_169"><circle cx="176.2" cy="2487"/></g>
<g id="n730_170"><circle cx="176.2" cy="2501.7"/></g>
<g id="n630_155"><circle cx="152" cy="2281.6"/></g>
<g id="n630_156"><circle cx="152" cy="2296.2"/></g>
<g id="n630_157"><circle cx="152" cy="2310.9"/></g>
<g id="n630_158"><circle cx="152" cy="2325.6"/></g>
<g id="n630_159"><circle cx="152" cy="2340.3"/></g>
<g id="n630_160"><circle cx="152" cy="2354.9"/></g>
<g id="n630_161"><circle cx="152" cy="2369.6"/></g>
<g id="n630_162"><circle cx="152" cy="2384.3"/></g>
<g id="n630_163"><circle cx="152" cy="2399"/></g>
<g id="n630_164"><circle cx="152" cy="2413.6"/></g>
<g id="n630_165"><circle cx="152" cy="2428.3"/></g>
<g id="n630_166"><circle cx="152" cy="2443"/></g>
<g id="n630_167"><circle cx="152" cy="2457.6"/></g>
<g id="n630_168"><circle cx="152" cy="2472.3"/></g>
<g id="n630_169"><circle cx="152" cy="2487"/></g>
<g id="n630_170"><circle cx="152" cy="2501.7"/></g>
<g id="n530_167"><circle cx="127.9" cy="2457.6"/></g>
<g id="n530_168"><circle cx="127.9" cy="2472.3"/></g>
<g id="n530_169"><circle cx="127.9" cy="2487"/></g>
<g id="n530_170"><circle cx="127.9" cy="2501.7"/></g>
<g id="n530_171"><circle cx="127.9" cy="2516.3"/></g>
<g id="n530_172"><circle cx="127.9" cy="2531"/></g>
<g id="n530_173"><circle cx="127.9" cy="2545.7"/></g>
<g id="n530_174"><circle cx="127.9" cy="2560.4"/></g>
<g id="n530_175"><circle cx="127.9" cy="2575"/></g>
<g id="n530_176"><circle cx="127.9" cy="2589.7"/></g>
<g id="n530_177"><circle cx="127.9" cy="2604.4"/></g>
<g id="n530_178"><circle cx="127.9" cy="2619.1"/></g>
<g id="n530_179"><circle cx="127.9" cy="2633.7"/></g>
<g id="n530_180"><circle cx="127.9" cy="2648.4"/></g>
<g id="n530_181"><circle cx="127.9" cy="2663.1"/></g>
<g id="n530_182"><circle cx="127.9" cy="2677.7"/></g>
<g id="n530_183"><circle cx="127.9" cy="2692.4"/></g>
<g id="n530_184"><circle cx="127.9" cy="2707.1"/></g>
<g id="n530_185"><circle cx="127.9" cy="2721.8"/></g>
<g id="n530_186"><circle cx="127.9" cy="2736.4"/></g>
<g id="n530_187"><circle cx="127.9" cy="2751.1"/></g>
<g id="n530_188"><circle cx="127.9" cy="2765.8"/></g>
<g id="n530_189"><circle cx="127.9" cy="2780.5"/></g>
<g id="n530_190"><circle cx="127.9" cy="2795.1"/></g>
<g id="n530_191"><circle cx="127.9" cy="2809.8"/></g>
<g id="n530_192"><circle cx="127.9" cy="2824.5"/></g>
<g id="n530_193"><circle cx="127.9" cy="2839.1"/></g>
<g id="n530_194"><circle cx="127.9" cy="2853.8"/></g>
<g id="n530_195"><circle cx="127.9" cy="2868.5"/></g>
<g id="n530_196"><circle cx="127.9" cy="2883.2"/></g>
<g id="n530_197"><circle cx="127.9" cy="2897.8"/></g>
<g id="n530_198"><circle cx="127.9" cy="2912.5"/></g>
<g id="n530_199"><circle cx="127.9" cy="2927.2"/></g>
<g id="n530_200"><circle cx="127.9" cy="2941.9"/></g>
<g id="n482_201"><circle cx="116.3" cy="2956.5"/></g>
<g id="n482_202"><circle cx="116.3" cy="2971.2"/></g>
<g id="n482_203"><circle cx="116.3" cy="2985.9"/></g>
<g id="n482_204"><circle cx="116.3" cy="3000.5"/></g>
<g id="n482_205"><circle cx="116.3" cy="3015.2"/></g>
<g id="n482_206"><circle cx="116.3" cy="3029.9"/></g>
<g id="n482_207"><circle cx="116.3" cy="3044.6"/></g>
<g id="n482_208"><circle cx="116.3" cy="3059.2"/></g>
<g id="n482_209"><circle cx="116.3" cy="3073.9"/></g>
<g id="n482_210"><circle cx="116.3" cy="3088.6"/></g>
<g id="n482_211"><circle cx="116.3" cy="3103.2"/></g>
<g id="n482_212"><circle cx="116.3" cy="3117.9"/></g>
<g id="n482_213"><circle cx="116.3" cy="3132.6"/></g>
<g id="n482_214"><circle cx="116.3" cy="3147.3"/></g>
<g id="n482_215"><circle cx="116.3" cy="3161.9"/></g>
<g id="n482_216"><circle cx="116.3" cy="3176.6"/></g>
<g id="n482_217"><circle cx="116.3" cy="3191.3"/></g>
<g id="n482_218"><circle cx="116.3" cy="3206"/></g>
<g id="n482_219"><circle cx="116.3" cy="3220.6"/></g>
<g id="n482_220"><circle cx="116.3" cy="3235.3"/></g>
<g id="n482_221"><circle cx="116.3" cy="3250"/></g>
<g id="n482_222"><circle cx="116.3" cy="3264.7"/></g>
<g id="n482_223"><circle cx="116.3" cy="3279.3"/></g>
<g id="n482_224"><circle cx="116.3" cy="3294"/></g>
<g id="n482_225"><circle cx="116.3" cy="3308.7"/></g>
<g id="n482_226"><circle cx="116.3" cy="3323.4"/></g>
<g id="n482_227"><circle cx="116.3" cy="3338"/></g>
<g id="n482_228"><circle cx="116.3" cy="3352.7"/></g>
<g id="n482_229"><circle cx="116.3" cy="3367.4"/></g>
<g id="n482_230"><circle cx="116.3" cy="3382"/></g>
<g id="n482_231"><circle cx="116.3" cy="3396.7"/></g>
<g id="n482_232"><circle cx="116.3" cy="3411.4"/></g>
<g id="n482_233"><circle cx="116.3" cy="3426.1"/></g>
<g id="n482_234"><circle cx="116.3" cy="3440.7"/></g>
<g id="n482_235"><circle cx="116.3" cy="3455.4"/></g>
<g id="n482_236"><circle cx="116.3" cy="3470.1"/></g>
<g id="n482_237"><circle cx="116.3" cy="3484.8"/></g>
<g id="n482_238"><circle cx="116.3" cy="3499.4"/></g>
<g id="n482_239"><circle cx="116.3" cy="3514.1"/></g>
<g id="n482_240"><circle cx="116.3" cy="3528.8"/></g>
<g id="n482_241"><circle cx="116.3" cy="3543.4"/></g>
<g id="n482_242"><circle cx="116.3" cy="3558.1"/></g>
<g id="n482_243"><circle cx="116.3" cy="3572.8"/></g>
<g id="n482_244"><circle cx="116.3" cy="3587.5"/></g>
<g id="n382_207"><circle cx="92.2" cy="3044.6"/></g>
<g id="n382_208"><circle cx="92.2" cy="3059.2"/></g>
<g id="n582_201"><circle cx="140.5" cy="2956.5"/></g>
<g id="n582_202"><circle cx="140.5" cy="2971.2"/></g>
<g id="n582_203"><circle cx="140.5" cy="2985.9"/></g>
<g id="n582_204"><circle cx="140.5" cy="3000.5"/></g>
<g id="n582_205"><circle cx="140.5" cy="3015.2"/></g>
<g id="n582_206"><circle cx="140.5" cy="3029.9"/></g>
<g id="n582_207"><circle cx="140.5" cy="3044.6"/></g>
<g id="n582_208"><circle cx="140.5" cy="3059.2"/></g>
<g id="n582_209"><circle cx="140.5" cy="3073.9"/></g>
<g id="n582_210"><circle cx="140.5" cy="3088.6"/></g>
<g id="n582_223"><circle cx="140.5" cy="3279.3"/></g>
<g id="n582_224"><circle cx="140.5" cy="3294"/></g>
<g id="n582_225"><circle cx="140.5" cy="3308.7"/></g>
<g id="n582_226"><circle cx="140.5" cy="3323.4"/></g>
<g id="n582_227"><circle cx="140.5" cy="3338"/></g>
<g id="n582_228"><circle cx="140.5" cy="3352.7"/></g>
<g id="n582_229"><circle cx="140.5" cy="3367.4"/></g>
<g id="n582_230"><circle cx="140.5" cy="3382"/></g>
<g id="n582_231"><circle cx="140.5" cy="3396.7"/></g>
<g id="n582_232"><circle cx="140.5" cy="3411.4"/></g>
<g id="n582_233"><circle cx="140.5" cy="3426.1"/></g>
<g id="n582_234"><circle cx="140.5" cy="3440.7"/></g>
<g id="n582_235"><circle cx="140.5" cy="3455.4"/></g>
<g id="n582_236"><circle cx="140.5" cy="3470.1"/></g>
<g id="n582_241"><circle cx="140.5" cy="3543.4"/></g>
<g id="n582_242"><circle cx="140.5" cy="3558.1"/></g>
<g id="n582_243"><circle cx="140.5" cy="3572.8"/></g>
<g id="n582_244"><circle cx="140.5" cy="3587.5"/></g>
<g id="n582_245"><circle cx="140.5" cy="3602.1"/></g>
<g id="n582_246"><circle cx="140.5" cy="3616.8"/></g>
<g id="n582_247"><circle cx="140.5" cy="3631.5"/></g>
<g id="n582_248"><circle cx="140.5" cy="3646.2"/></g>
<g id="n682_243"><circle cx="164.6" cy="3572.8"/></g>
<g id="n682_244"><circle cx="164.6" cy="3587.5"/></g>
<g id="n682_245"><circle cx="164.6" cy="3602.1"/></g>
<g id="n682_246"><circle cx="164.6" cy="3616.8"/></g>
<g id="n534_249"><circle cx="128.9" cy="3660.8"/></g>
<g id="n534_250"><circle cx="128.9" cy="3675.5"/></g>
<g id="n634_249"><circle cx="153" cy="3660.8"/></g>
<g id="n634_250"><circle cx="153" cy="3675.5"/></g>
<g id="n634_251"><circle cx="153" cy="3690.2"/></g>
<g id="n634_252"><circle cx="153" cy="3704.8"/></g>
<g id="n634_253"><circle cx="153" cy="3719.5"/></g>
<g id="n634_254"><circle cx="153" cy="3734.2"/></g>
<g id="n586_255"><circle cx="141.4" cy="3748.9"/></g>
<g id="n586_256"><circle cx="141.4" cy="3763.5"/></g>
<g id="n586_257"><circle cx="141.4" cy="3778.2"/></g>
<g id="n586_258"><circle cx="141.4" cy="3792.9"/></g>
<g id="n586_259"><circle cx="141.4" cy="3807.6"/></g>
<g id="n586_260"><circle cx="141.4" cy="3822.2"/></g>
<g id="n586_261"><circle cx="141.4" cy="3836.9"/></g>
<g id="n586_262"><circle cx="141.4" cy="3851.6"/></g>
<g id="n686_255"><circle cx="165.6" cy="3748.9"/></g>
<g id="n686_256"><circle cx="165.6" cy="3763.5"/></g>
<g id="n686_257"><circle cx="165.6" cy="3778.2"/></g>
<g id="n686_258"><circle cx="165.6" cy="3792.9"/></g>
<g id="n686_259"><circle cx="165.6" cy="3807.6"/></g>
<g id="n686_260"><circle cx="165.6" cy="3822.2"/></g>
<g id="n786_257"><circle cx="189.7" cy="3778.2"/></g>
<g id="n786_258"><circle cx="189.7" cy="3792.9"/></g>
<g id="n786_259"><circle cx="189.7" cy="3807.6"/></g>
<g id="n786_260"><circle cx="189.7" cy="3822.2"/></g>
<g id="n730_95"><circle cx="176.2" cy="1401.2"/></g>
<g id="n730_96"><circle cx="176.2" cy="1415.9"/></g>
<g id="n730_97"><circle cx="176.2" cy="1430.5"/></g>
<g id="n730_98"><circle cx="176.2" cy="1445.2"/></g>
<g id="n730_99"><circle cx="176.2" cy="1459.9"/></g>
<g id="n730_100"><circle cx="176.2" cy="1474.5"/></g>
<g id="n630_99"><circle cx="152" cy="1459.9"/></g>
<g id="n630_100"><circle cx="152" cy="1474.5"/></g>
<g id="n630_101"><circle cx="152" cy="1489.2"/></g>
<g id="n630_102"><circle cx="152" cy="1503.9"/></g>
<g id="n630_103"><circle cx="152" cy="1518.6"/></g>
<g id="n630_104"><circle cx="152" cy="1533.2"/></g>
<g id="n730_105"><circle cx="176.2" cy="1547.9"/></g>
<g id="n730_106"><circle cx="176.2" cy="1562.6"/></g>
<g id="n730_107"><circle cx="176.2" cy="1577.3"/></g>
<g id="n730_108"><circle cx="176.2" cy="1591.9"/></g>
<g id="n730_109"><circle cx="176.2" cy="1606.6"/></g>
<g id="n730_110"><circle cx="176.2" cy="1621.3"/></g>
<g id="n730_111"><circle cx="176.2" cy="1636"/></g>
<g id="n730_112"><circle cx="176.2" cy="1650.6"/></g>
<g id="n730_113"><circle cx="176.2" cy="1665.3"/></g>
<g id="n730_114"><circle cx="176.2" cy="1680"/></g>
<g id="n730_115"><circle cx="176.2" cy="1694.6"/></g>
<g id="n730_116"><circle cx="176.2" cy="1709.3"/></g>
<g id="n730_117"><circle cx="176.2" cy="1724"/></g>
<g id="n730_118"><circle cx="176.2" cy="1738.7"/></g>
<g id="n730_119"><circle cx="176.2" cy="1753.3"/></g>
<g id="n730_120"><circle cx="176.2" cy="1768"/></g>
<g id="n730_121"><circle cx="176.2" cy="1782.7"/></g>
<g id="n730_122"><circle cx="176.2" cy="1797.4"/></g>
<g id="n730_123"><circle cx="176.2" cy="1812"/></g>
<g id="n730_124"><circle cx="176.2" cy="1826.7"/></g>
<g id="n730_125"><circle cx="176.2" cy="1841.4"/></g>
<g id="n730_126"><circle cx="176.2" cy="1856.1"/></g>
<g id="n730_127"><circle cx="176.2" cy="1870.7"/></g>
<g id="n730_128"><circle cx="176.2" cy="1885.4"/></g>
<g id="n830_125"><circle cx="200.3" cy="1841.4"/></g>
<g id="n830_126"><circle cx="200.3" cy="1856.1"/></g>
<g id="n830_127"><circle cx="200.3" cy="1870.7"/></g>
<g id="n830_128"><circle cx="200.3" cy="1885.4"/></g>
<g id="n830_129"><circle cx="200.3" cy="1900.1"/></g>
<g id="n830_130"><circle cx="200.3" cy="1914.7"/></g>
<g id="n830_131"><circle cx="200.3" cy="1929.4"/></g>
<g id="n830_132"><circle cx="200.3" cy="1944.1"/></g>
<g id="n830_133"><circle cx="200.3" cy="1958.8"/></g>
<g id="n830_134"><circle cx="200.3" cy="1973.4"/></g>
<g id="n830_135"><circle cx="200.3" cy="1988.1"/></g>
<g id="n830_136"><circle cx="200.3" cy="2002.8"/></g>
<g id="n830_137"><circle cx="200.3" cy="2017.5"/></g>
<g id="n830_138"><circle cx="200.3" cy="2032.1"/></g>
<g id="n830_139"><circle cx="200.3" cy="2046.8"/></g>
<g id="n830_140"><circle cx="200.3" cy="2061.5"/></g>
<g id="n830_141"><circle cx="200.3" cy="2076.1"/></g>
<g id="n830_142"><circle cx="200.3" cy="2090.8"/></g>
<g id="n830_143"><circle cx="200.3" cy="2105.5"/></g>
<g id="n830_144"><circle cx="200.3" cy="2120.2"/></g>
<g id="n830_145"><circle cx="200.3" cy="2134.8"/></g>
<g id="n830_146"><circle cx="200.3" cy="2149.5"/></g>
<g id="n830_147"><circle cx="200.3" cy="2164.2"/></g>
<g id="n830_148"><circle cx="200.3" cy="2178.9"/></g>
<g id="n830_149"><circle cx="200.3" cy="2193.5"/></g>
<g id="n830_150"><circle cx="200.3" cy="2208.2"/></g>
<g id="n830_151"><circle cx="200.3" cy="2222.9"/></g>
<g id="n830_152"><circle cx="200.3" cy="2237.5"/></g>
<g id="n830_153"><circle cx="200.3" cy="2252.2"/></g>
<g id="n830_154"><circle cx="200.3" cy="2266.9"/></g>
<g id="n830_155"><circle cx="200.3" cy="2281.6"/></g>
<g id="n830_156"><circle cx="200.3" cy="2296.2"/></g>
<g id="n830_157"><circle cx="200.3" cy="2310.9"/></g>
<g id="n830_158"><circle cx="200.3" cy="2325.6"/></g>
<g id="n830_159"><circle cx="200.3" cy="2340.3"/></g>
<g id="n830_160"><circle cx="200.3" cy="2354.9"/></g>
<g id="n830_161"><circle cx="200.3" cy="2369.6"/></g>
<g id="n830_162"><circle cx="200.3" cy="2384.3"/></g>
<g id="n830_163"><circle cx="200.3" cy="2399"/></g>
<g id="n830_164"><circle cx="200.3" cy="2413.6"/></g>
<g id="n830_165"><circle cx="200.3" cy="2428.3"/></g>
<g id="n830_166"><circle cx="200.3" cy="2443"/></g>
<g id="n830_167"><circle cx="200.3" cy="2457.6"/></g>
<g id="n830_168"><circle cx="200.3" cy="2472.3"/></g>
<g id="n830_169"><circle cx="200.3" cy="2487"/></g>
<g id="n830_170"><circle cx="200.3" cy="2501.7"/></g>
<g id="n830_171"><circle cx="200.3" cy="2516.3"/></g>
<g id="n830_172"><circle cx="200.3" cy="2531"/></g>
<g id="n830_173"><circle cx="200.3" cy="2545.7"/></g>
<g id="n830_174"><circle cx="200.3" cy="2560.4"/></g>
<g id="n830_175"><circle cx="200.3" cy="2575"/></g>
<g id="n830_176"><circle cx="200.3" cy="2589.7"/></g>
<g id="n830_177"><circle cx="200.3" cy="2604.4"/></g>
<g id="n830_178"><circle cx="200.3" cy="2619.1"/></g>
<g id="n930_161"><circle cx="224.4" cy="2369.6"/></g>
<g id="n930_162"><circle cx="224.4" cy="2384.3"/></g>
<g id="n806_179"><circle cx="194.5" cy="2633.7"/></g>
<g id="n806_180"><circle cx="194.5" cy="2648.4"/></g>
<g id="n806_181"><circle cx="194.5" cy="2663.1"/></g>
<g id="n806_182"><circle cx="194.5" cy="2677.7"/></g>
<g id="n806_183"><circle cx="194.5" cy="2692.4"/></g>
<g id="n806_184"><circle cx="194.5" cy="2707.1"/></g>
<g id="n806_185"><circle cx="194.5" cy="2721.8"/></g>
<g id="n806_186"><circle cx="194.5" cy="2736.4"/></g>
<g id="n806_187"><circle cx="194.5" cy="2751.1"/></g>
<g id="n806_188"><circle cx="194.5" cy="2765.8"/></g>
<g id="n906_179"><circle cx="218.7" cy="2633.7"/></g>
<g id="n906_180"><circle cx="218.7" cy="2648.4"/></g>
<g id="n906_181"><circle cx="218.7" cy="2663.1"/></g>
<g id="n906_182"><circle cx="218.7" cy="2677.7"/></g>
<g id="n906_183"><circle cx="218.7" cy="2692.4"/></g>
<g id="n906_184"><circle cx="218.7" cy="2707.1"/></g>
<g id="n906_185"><circle cx="218.7" cy="2721.8"/></g>
<g id="n906_186"><circle cx="218.7" cy="2736.4"/></g>
<g id="n882_189"><circle cx="212.9" cy="2780.5"/></g>
<g id="n882_190"><circle cx="212.9" cy="2795.1"/></g>
<g id="n882_191"><circle cx="212.9" cy="2809.8"/></g>
<g id="n882_192"><circle cx="212.9" cy="2824.5"/></g>
<g id="n882_193"><circle cx="212.9" cy="2839.1"/></g>
<g id="n882_194"><circle cx="212.9" cy="2853.8"/></g>
<g id="n882_195"><circle cx="212.9" cy="2868.5"/></g>
<g id="n882_196"><circle cx="212.9" cy="2883.2"/></g>
<g id="n882_197"><circle cx="212.9" cy="2897.8"/></g>
<g id="n882_198"><circle cx="212.9" cy="2912.5"/></g>
<g id="n882_199"><circle cx="212.9" cy="2927.2"/></g>
<g id="n882_200"><circle cx="212.9" cy="2941.9"/></g>
<g id="n982_197"><circle cx="237" cy="2897.8"/></g>
<g id="n982_198"><circle cx="237" cy="2912.5"/></g>
<g id="n782_189"><circle cx="188.7" cy="2780.5"/></g>
<g id="n782_190"><circle cx="188.7" cy="2795.1"/></g>
<g id="n782_191"><circle cx="188.7" cy="2809.8"/></g>
<g id="n782_192"><circle cx="188.7" cy="2824.5"/></g>
<g id="n782_193"><circle cx="188.7" cy="2839.1"/></g>
<g id="n782_194"><circle cx="188.7" cy="2853.8"/></g>
<g id="n782_195"><circle cx="188.7" cy="2868.5"/></g>
<g id="n782_196"><circle cx="188.7" cy="2883.2"/></g>
<g id="n782_197"><circle cx="188.7" cy="2897.8"/></g>
<g id="n782_198"><circle cx="188.7" cy="2912.5"/></g>
<g id="n782_199"><circle cx="188.7" cy="2927.2"/></g>
<g id="n782_200"><circle cx="188.7" cy="2941.9"/></g>
<g id="n782_201"><circle cx="188.7" cy="2956.5"/></g>
<g id="n782_202"><circle cx="188.7" cy="2971.2"/></g>
<g id="n782_203"><circle cx="188.7" cy="2985.9"/></g>
<g id="n782_204"><circle cx="188.7" cy="3000.5"/></g>
<g id="n782_205"><circle cx="188.7" cy="3015.2"/></g>
<g id="n782_206"><circle cx="188.7" cy="3029.9"/></g>
<g id="n782_207"><circle cx="188.7" cy="3044.6"/></g>
<g id="n782_208"><circle cx="188.7" cy="3059.2"/></g>
<g id="n682_205"><circle cx="164.6" cy="3015.2"/></g>
<g id="n682_206"><circle cx="164.6" cy="3029.9"/></g>
<g id="n682_207"><circle cx="164.6" cy="3044.6"/></g>
<g id="n682_208"><circle cx="164.6" cy="3059.2"/></g>
<g id="n882_203"><circle cx="212.9" cy="2985.9"/></g>
<g id="n882_204"><circle cx="212.9" cy="3000.5"/></g>
<g id="n882_205"><circle cx="212.9" cy="3015.2"/></g>
<g id="n882_206"><circle cx="212.9" cy="3029.9"/></g>
<g id="n882_207"><circle cx="212.9" cy="3044.6"/></g>
<g id="n882_208"><circle cx="212.9" cy="3059.2"/></g>
<g id="n882_209"><circle cx="212.9" cy="3073.9"/></g>
<g id="n882_210"><circle cx="212.9" cy="3088.6"/></g>
<g id="n782_209"><circle cx="188.7" cy="3073.9"/></g>
<g id="n782_210"><circle cx="188.7" cy="3088.6"/></g>
<g id="n782_211"><circle cx="188.7" cy="3103.2"/></g>
<g id="n782_212"><circle cx="188.7" cy="3117.9"/></g>
<g id="n782_213"><circle cx="188.7" cy="3132.6"/></g>
<g id="n782_214"><circle cx="188.7" cy="3147.3"/></g>
<g id="n782_215"><circle cx="188.7" cy="3161.9"/></g>
<g id="n782_216"><circle cx="188.7" cy="3176.6"/></g>
<g id="n782_217"><circle cx="188.7" cy="3191.3"/></g>
<g id="n782_218"><circle cx="188.7" cy="3206"/></g>
<g id="n782_219"><circle cx="188.7" cy="3220.6"/></g>
<g id="n782_220"><circle cx="188.7" cy="3235.3"/></g>
<g id="n782_221"><circle cx="188.7" cy="3250"/></g>
<g id="n782_222"><circle cx="188.7" cy="3264.7"/></g>
<g id="n782_223"><circle cx="188.7" cy="3279.3"/></g>
<g id="n782_224"><circle cx="188.7" cy="3294"/></g>
<g id="n782_225"><circle cx="188.7" cy="3308.7"/></g>
<g id="n782_226"><circle cx="188.7" cy="3323.4"/></g>
<g id="n782_227"><circle cx="188.7" cy="3338"/></g>
<g id="n782_228"><circle cx="188.7" cy="3352.7"/></g>
<g id="n782_229"><circle cx="188.7" cy="3367.4"/></g>
<g id="n782_230"><circle cx="188.7" cy="3382"/></g>
<g id="n782_231"><circle cx="188.7" cy="3396.7"/></g>
<g id="n782_232"><circle cx="188.7" cy="3411.4"/></g>
<g id="n782_233"><circle cx="188.7" cy="3426.1"/></g>
<g id="n782_234"><circle cx="188.7" cy="3440.7"/></g>
<g id="n782_235"><circle cx="188.7" cy="3455.4"/></g>
<g id="n782_236"><circle cx="188.7" cy="3470.1"/></g>
<g id="n782_237"><circle cx="188.7" cy="3484.8"/></g>
<g id="n782_238"><circle cx="188.7" cy="3499.4"/></g>
<g id="n782_239"><circle cx="188.7" cy="3514.1"/></g>
<g id="n782_240"><circle cx="188.7" cy="3528.8"/></g>
<g id="n782_241"><circle cx="188.7" cy="3543.4"/></g>
<g id="n782_242"><circle cx="188.7" cy="3558.1"/></g>
<g id="n782_243"><circle cx="188.7" cy="3572.8"/></g>
<g id="n782_244"><circle cx="188.7" cy="3587.5"/></g>
<g id="n782_245"><circle cx="188.7" cy="3602.1"/></g>
<g id="n782_246"><circle cx="188.7" cy="3616.8"/></g>
<g id="n782_247"><circle cx="188.7" cy="3631.5"/></g>
<g id="n782_248"><circle cx="188.7" cy="3646.2"/></g>
<g id="n682_215"><circle cx="164.6" cy="3161.9"/></g>
<g id="n682_216"><circle cx="164.6" cy="3176.6"/></g>
<g id="n682_227"><circle cx="164.6" cy="3338"/></g>
<g id="n682_228"><circle cx="164.6" cy="3352.7"/></g>
<g id="n682_229"><circle cx="164.6" cy="3367.4"/></g>
<g id="n682_230"><circle cx="164.6" cy="3382"/></g>
<g id="n682_231"><circle cx="164.6" cy="3396.7"/></g>
<g id="n682_232"><circle cx="164.6" cy="3411.4"/></g>
<g id="n682_233"><circle cx="164.6" cy="3426.1"/></g>
<g id="n682_234"><circle cx="164.6" cy="3440.7"/></g>
<g id="n682_235"><circle cx="164.6" cy="3455.4"/></g>
<g id="n682_236"><circle cx="164.6" cy="3470.1"/></g>
<g id="n682_237"><circle cx="164.6" cy="3484.8"/></g>
<g id="n682_238"><circle cx="164.6" cy="3499.4"/></g>
<g id="n882_237"><circle cx="212.9" cy="3484.8"/></g>
<g id="n882_238"><circle cx="212.9" cy="3499.4"/></g>
<g id="n882_239"><circle cx="212.9" cy="3514.1"/></g>
<g id="n882_240"><circle cx="212.9" cy="3528.8"/></g>
<g id="n882_241"><circle cx="212.9" cy="3543.4"/></g>
<g id="n882_242"><circle cx="212.9" cy="3558.1"/></g>
<g id="n882_243"><circle cx="212.9" cy="3572.8"/></g>
<g id="n882_244"><circle cx="212.9" cy="3587.5"/></g>
<g id="n882_245"><circle cx="212.9" cy="3602.1"/></g>
<g id="n882_246"><circle cx="212.9" cy="3616.8"/></g>
<g id="n882_247"><circle cx="212.9" cy="3631.5"/></g>
<g id="n882_248"><circle cx="212.9" cy="3646.2"/></g>
<g id="n882_249"><circle cx="212.9" cy="3660.8"/></g>
<g id="n882_250"><circle cx="212.9" cy="3675.5"/></g>
<g id="n882_251"><circle cx="212.9" cy="3690.2"/></g>
<g id="n882_252"><circle cx="212.9" cy="3704.8"/></g>
<g id="n982_247"><circle cx="237" cy="3631.5"/></g>
<g id="n982_248"><circle cx="237" cy="3646.2"/></g>
<g id="n982_249"><circle cx="237" cy="3660.8"/></g>
<g id="n982_250"><circle cx="237" cy="3675.5"/></g>
<g id="n982_251"><circle cx="237" cy="3690.2"/></g>
<g id="n982_252"><circle cx="237" cy="3704.8"/></g>
<g id="n982_253"><circle cx="237" cy="3719.5"/></g>
<g id="n982_254"><circle cx="237" cy="3734.2"/></g>
<g id="n882_253"><circle cx="212.9" cy="3719.5"/></g>
<g id="n882_254"><circle cx="212.9" cy="3734.2"/></g>
<g id="n834_255"><circle cx="201.3" cy="3748.9"/></g>
<g id="n834_256"><circle cx="201.3" cy="3763.5"/></g>
<g id="n934_255"><circle cx="225.4" cy="3748.9"/></g>
<g id="n934_256"><circle cx="225.4" cy="3763.5"/></g>
<g id="n934_257"><circle cx="225.4" cy="3778.2"/></g>
<g id="n934_258"><circle cx="225.4" cy="3792.9"/></g>
<g id="n934_259"><circle cx="225.4" cy="3807.6"/></g>
<g id="n934_260"><circle cx="225.4" cy="3822.2"/></g>
<g id="n934_261"><circle cx="225.4" cy="3836.9"/></g>
<g id="n934_262"><circle cx="225.4" cy="3851.6"/></g>
<g id="n930_89"><circle cx="224.4" cy="1313.1"/></g>
<g id="n930_90"><circle cx="224.4" cy="1327.8"/></g>
<g id="n930_91"><circle cx="224.4" cy="1342.5"/></g>
<g id="n930_92"><circle cx="224.4" cy="1357.2"/></g>
<g id="n930_93"><circle cx="224.4" cy="1371.8"/></g>
<g id="n930_94"><circle cx="224.4" cy="1386.5"/></g>
<g id="n930_95"><circle cx="224.4" cy="1401.2"/></g>
<g id="n930_96"><circle cx="224.4" cy="1415.9"/></g>
<g id="n930_97"><circle cx="224.4" cy="1430.5"/></g>
<g id="n930_98"><circle cx="224.4" cy="1445.2"/></g>
<g id="n930_99"><circle cx="224.4" cy="1459.9"/></g>
<g id="n930_100"><circle cx="224.4" cy="1474.5"/></g>
<g id="n930_101"><circle cx="224.4" cy="1489.2"/></g>
<g id="n930_102"><circle cx="224.4" cy="1503.9"/></g>
<g id="n930_103"><circle cx="224.4" cy="1518.6"/></g>
<g id="n930_104"><circle cx="224.4" cy="1533.2"/></g>
<g id="n930_105"><circle cx="224.4" cy="1547.9"/></g>
<g id="n930_106"><circle cx="224.4" cy="1562.6"/></g>
<g id="n930_107"><circle cx="224.4" cy="1577.3"/></g>
<g id="n930_108"><circle cx="224.4" cy="1591.9"/></g>
<g id="n930_111"><circle cx="224.4" cy="1636"/></g>
<g id="n930_112"><circle cx="224.4" cy="1650.6"/></g>
<g id="n930_113"><circle cx="224.4" cy="1665.3"/></g>
<g id="n930_114"><circle cx="224.4" cy="1680"/></g>
<g id="n930_115"><circle cx="224.4" cy="1694.6"/></g>
<g id="n930_116"><circle cx="224.4" cy="1709.3"/></g>
<g id="n930_117"><circle cx="224.4" cy="1724"/></g>
<g id="n930_118"><circle cx="224.4" cy="1738.7"/></g>
<g id="n930_119"><circle cx="224.4" cy="1753.3"/></g>
<g id="n930_120"><circle cx="224.4" cy="1768"/></g>
<g id="n930_121"><circle cx="224.4" cy="1782.7"/></g>
<g id="n930_122"><circle cx="224.4" cy="1797.4"/></g>
</g>
</svg>
